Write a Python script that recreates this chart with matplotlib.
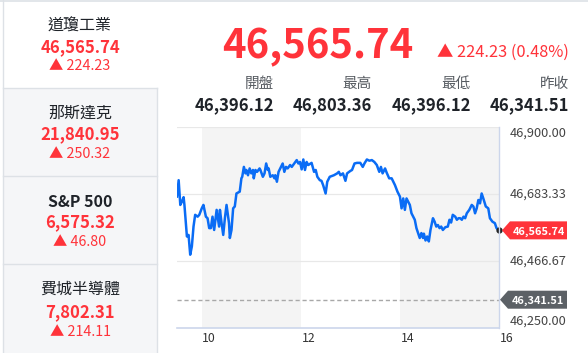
import matplotlib as mpl
mpl.use('Agg')
import matplotlib.pyplot as plt
from matplotlib.patches import Polygon, Rectangle
from matplotlib.lines import Line2D
from matplotlib.transforms import IdentityTransform, blended_transform_factory

plt.rcParams['font.family'] = ['Noto Sans CJK TC', 'DejaVu Sans']

# sidebar quotes
names = ['道瓊工業', '那斯達克', 'S&P 500', '費城半導體']
closes = ['46,565.74', '21,840.95', '6,575.32', '7,802.31']
changes = ['224.23', '250.32', '46.80', '214.11']

# header
last_price = 46565.74
last_change = '224.23 (0.48%)'
stat_labels = ['開盤', '最高', '最低', '昨收']
stat_values = ['46,396.12', '46,803.36', '46,396.12', '46,341.51']
prev_close = 46341.51

# intraday series: minutes after 09:30, index value
minutes = [0, 2, 4, 6, 8, 9, 12, 14, 16, 18,
           20, 22, 25, 27, 30, 32, 35, 37, 39, 41,
           43, 45, 48, 51, 52, 54, 56, 58, 60, 63,
           64, 66, 68, 70, 72, 76, 78, 79, 81, 83,
           84, 86, 88, 90, 92, 93, 95, 97, 100, 101,
           104, 106, 108, 110, 111, 113, 116, 118, 119, 121,
           123, 125, 128, 130, 132, 134, 137, 139, 142, 145,
           147, 149, 151, 153, 155, 157, 159, 163, 166, 168,
           170, 173, 175, 177, 180, 182, 185, 187, 190, 194,
           196, 198, 201, 204, 206, 210, 212, 215, 218, 222,
           225, 227, 230, 233, 236, 239, 242, 245, 247, 249,
           252, 254, 257, 260, 264, 267, 270, 272, 274, 276,
           278, 282, 284, 288, 290, 294, 296, 298, 299, 301,
           303, 305, 307, 310, 312, 314, 316, 318, 320, 322,
           325, 328, 330, 332, 334, 337, 339, 341, 343, 345,
           347, 349, 351, 354, 357, 359, 361, 363, 365, 367,
           369, 371, 374, 377, 379, 382, 385, 387, 390]
prices = [46675, 46728, 46648, 46659, 46673, 46648, 46546, 46551, 46487, 46514,
          46578, 46616, 46610, 46616, 46637, 46648, 46610, 46605, 46573, 46573,
          46610, 46567, 46632, 46578, 46632, 46589, 46551, 46605, 46648, 46589,
          46541, 46567, 46637, 46643, 46685, 46691, 46734, 46739, 46771, 46750,
          46761, 46744, 46766, 46750, 46761, 46734, 46761, 46755, 46766, 46761,
          46739, 46750, 46782, 46761, 46766, 46739, 46744, 46734, 46744, 46723,
          46755, 46766, 46782, 46755, 46771, 46766, 46777, 46771, 46782, 46793,
          46782, 46787, 46763, 46795, 46761, 46787, 46777, 46784, 46755, 46761,
          46739, 46728, 46726, 46712, 46685, 46723, 46739, 46741, 46744, 46750,
          46755, 46744, 46750, 46726, 46750, 46758, 46761, 46782, 46784, 46784,
          46771, 46782, 46795, 46791, 46793, 46787, 46777, 46755, 46771, 46750,
          46766, 46752, 46734, 46734, 46712, 46691, 46675, 46637, 46669, 46632,
          46669, 46648, 46621, 46600, 46573, 46541, 46557, 46541, 46555, 46533,
          46546, 46530, 46567, 46605, 46594, 46578, 46583, 46573, 46578, 46567,
          46576, 46578, 46600, 46591, 46616, 46610, 46600, 46605, 46605, 46600,
          46610, 46605, 46621, 46632, 46648, 46643, 46621, 46637, 46664, 46653,
          46685, 46669, 46643, 46637, 46605, 46594, 46589, 46573, 46565.74]
y_ticks = [46250.00, 46466.67, 46683.33, 46900.00]
x_ticks = [10, 12, 14, 16]

RED = '#ff333a'
DARK = '#1f2329'
GRAY_TXT = '#555a60'
LINE = '#dde1e6'

W, H = 588, 353
fig = plt.figure(figsize=(W / 100, H / 100), dpi=100)


def fx(x):
    return x / W


def fy(y):
    return 1 - y / H


# ---- sidebar frame
fig.add_artist(Rectangle((fx(3), fy(353)), fx(154), (353 - 88) / H, transform=fig.transFigure,
                         facecolor='#f5f6f8', edgecolor='none', zorder=0))
for y in [88, 176, 264]:
    fig.add_artist(Line2D([fx(3), fx(157)], [fy(y), fy(y)], color=LINE, lw=1))
fig.add_artist(Line2D([fx(3), fx(3)], [0, 1], color=LINE, lw=1))
fig.add_artist(Line2D([fx(157), fx(157)], [fy(88), 0], color=LINE, lw=1))
fig.add_artist(Line2D([0, 1], [fy(0.5), fy(0.5)], color=LINE, lw=1.2))

name_y = [26, 113, 202, 289]
close_y = [52, 139, 227, 317]
chg_y = [70, 158, 246, 336]
for i in range(4):
    bold = names[i].startswith('S&P')
    fig.text(fx(80), fy(name_y[i]), names[i], ha='center', va='center', fontsize=11.5,
             color=DARK, fontweight='bold' if bold else 'normal')
    fig.text(fx(80), fy(close_y[i]), closes[i], ha='center', va='baseline', fontsize=12,
             color=RED, fontweight='bold')
    fig.text(fx(80), fy(chg_y[i]), '▲ ' + changes[i], ha='center', va='baseline', fontsize=10.3,
             color=RED)

# ---- header
fig.text(fx(318), fy(58), f'{last_price:,.2f}', ha='center', va='baseline', fontsize=28.8,
         color=RED, fontweight='bold')
fig.text(fx(569), fy(57), '▲ ' + last_change, ha='right', va='baseline', fontsize=11.8,
         color=RED)
stat_x = [274, 372, 471, 569]
for sx, lab, val in zip(stat_x, stat_labels, stat_values):
    fig.text(fx(sx), fy(84), lab, ha='right', va='center', fontsize=10.5, color=GRAY_TXT)
    fig.text(fx(sx), fy(110), val, ha='right', va='baseline', fontsize=12, color=DARK,
             fontweight='bold')

# ---- chart
ax = fig.add_axes([fx(177), fy(328), (499 - 177) / W, (328 - 127) / H])
hours = [9.5 + m / 60 for m in minutes]
ax.set_xlim(9.5, 16)
ax.set_ylim(y_ticks[0], y_ticks[-1])
for a, b in [(10, 12), (14, 16)]:
    ax.axvspan(a, b, color='#f4f4f4', lw=0, zorder=0)
for t in y_ticks[1:]:
    ax.axhline(t, color='#e8e8e8', lw=0.9, zorder=1)
ax.axhline(prev_close, color='#a8a8a8', lw=1, ls=(0, (3, 2)), zorder=2)
ax.plot(hours, prices, color='#0a6cf5', lw=1.8, zorder=3, solid_joinstyle='round')
ax.plot(hours[-1], prices[-1], 'o', color='#222222', ms=3.5, zorder=4, clip_on=False)
for s in ax.spines.values():
    s.set_visible(False)
ax.set_xticks([])
ax.set_yticks([])
ax.axhline(y_ticks[0], color='#ccd6eb', lw=1.2, zorder=4, clip_on=False)
ax.axvline(16, color='#ccd6eb', lw=1, zorder=4, clip_on=False)

# x labels, shifted a little right of the band edges
tx = blended_transform_factory(ax.transData, fig.transFigure)
for t in x_ticks:
    ax.text(t + 0.15, fy(339), str(t), transform=tx, ha='center', va='center',
            fontsize=8.8, color='#333333')

# y labels on the right
ty = blended_transform_factory(fig.transFigure, ax.transData)
for i, t in enumerate(y_ticks):
    va = 'bottom' if i == 0 else ('top' if i == len(y_ticks) - 1 else 'center')
    ax.text(fx(510), t, f'{t:,.2f}', transform=ty, ha='left', va=va, fontsize=9.2,
            color='#444444')


def badge(value, color, label, tip_x):
    fig.canvas.draw()
    _, yd = ax.transData.transform((16, value))
    h = 9
    left, right = tip_x + 8, 567
    pts = [(tip_x, yd), (left, yd + h), (right, yd + h), (right, yd - h), (left, yd - h)]
    fig.add_artist(Polygon(pts, closed=True, transform=IdentityTransform(), facecolor=color,
                           edgecolor='none', zorder=5))
    fig.text((left + right) / 2 / W, yd / H - 0.003, label, ha='center', va='center',
             fontsize=7.9, color='white', fontweight='bold', zorder=6)


badge(prices[-1], RED, f'{prices[-1]:,.2f}', 502)
badge(prev_close, '#5c6166', f'{prev_close:,.2f}', 500)

fig.savefig('out.png', dpi=100)
